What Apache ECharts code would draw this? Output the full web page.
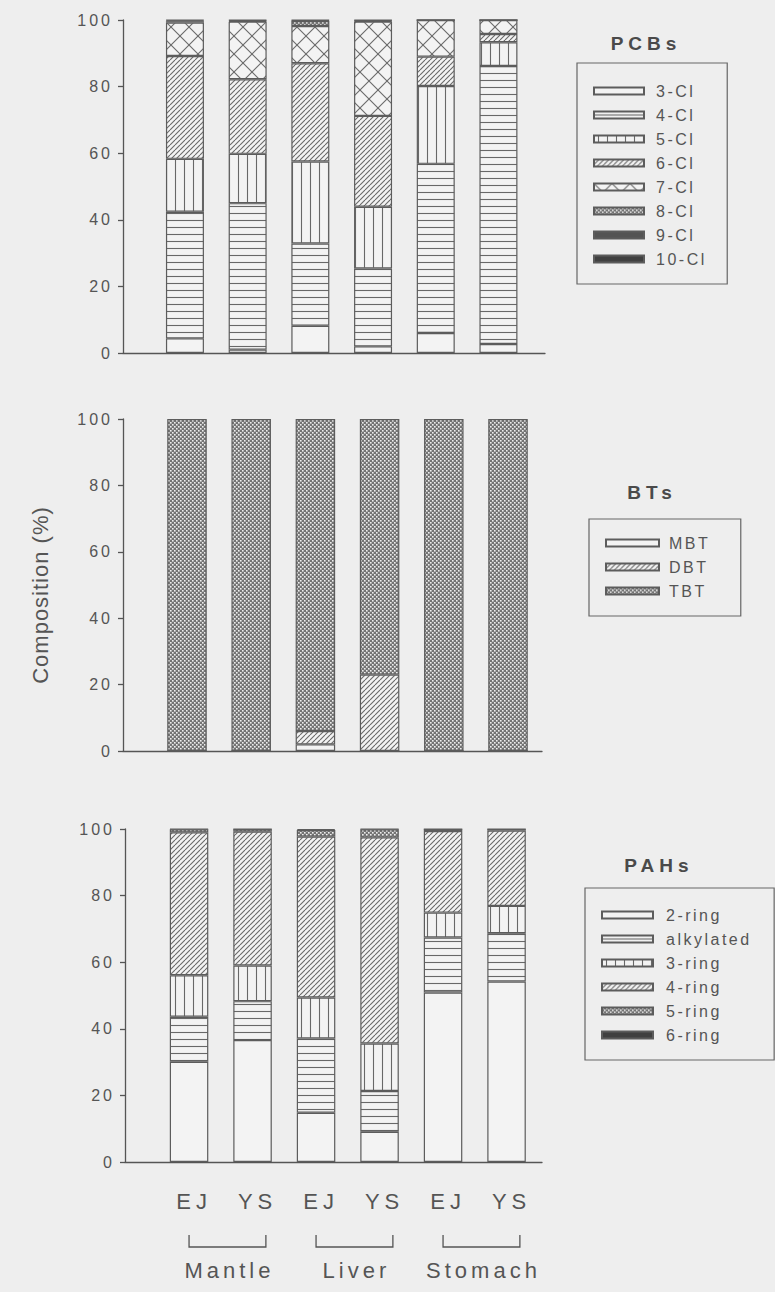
<!DOCTYPE html>
<html>
<head>
<meta charset="utf-8">
<script src="https://cdn.jsdelivr.net/npm/echarts@6.0.0/dist/echarts.min.js"></script>
<style>
  html, body { margin: 0; padding: 0; background: #eeeeee; }
  #chart { width: 775px; height: 1292px; }
  #chart text { letter-spacing: 2px; }
</style>
</head>
<body>
<div id="chart"></div>
<script>
// ---- data -------------------------------------------------------------
const samples = ['Mantle-EJ', 'Mantle-YS', 'Liver-EJ', 'Liver-YS', 'Stomach-EJ', 'Stomach-YS'];
const regionLabels = ['EJ', 'YS', 'EJ', 'YS', 'EJ', 'YS'];
const tissueLabels = ['Mantle', 'Liver', 'Stomach'];
const percentTicks = [0, 20, 40, 60, 80, 100];

// PCB homologue composition (%)
const pcbNames = ['3-Cl', '4-Cl', '5-Cl', '6-Cl', '7-Cl', '8-Cl', '9-Cl', '10-Cl'];
const pcb3 = [4.4, 1.0, 8.2, 2.0, 6.0, 2.7];
const pcb4 = [38.0, 44.0, 24.7, 23.4, 50.8, 83.5];
const pcb5 = [15.9, 14.8, 24.6, 18.5, 23.4, 7.1];
const pcb6 = [30.9, 22.4, 29.5, 27.3, 8.8, 2.5];
const pcb7 = [10.0, 17.3, 11.2, 28.3, 11.0, 4.2];
const pcb8 = [0.4, 0.2, 1.5, 0.2, 0, 0];
const pcb9 = [0.3, 0.2, 0.2, 0.2, 0, 0];
const pcb10 = [0.1, 0.1, 0.1, 0.1, 0, 0];

// butyltin composition (%)
const btNames = ['MBT', 'DBT', 'TBT'];
const mbt = [0, 0, 2.0, 0, 0, 0];
const dbt = [0, 0, 4.0, 23.0, 0, 0];
const tbt = [100, 100, 94.0, 77.0, 100, 100];

// PAH composition (%)
const pahNames = ['2-ring', 'alkylated', '3-ring', '4-ring', '5-ring', '6-ring'];
const ring2 = [30.1, 36.6, 14.8, 9.1, 50.9, 54.2];
const alkylated = [13.5, 11.7, 22.3, 12.2, 16.5, 14.5];
const ring3 = [12.5, 10.7, 12.3, 14.3, 7.5, 8.2];
const ring4 = [42.9, 40.2, 48.3, 61.9, 24.5, 22.6];
const ring5 = [0.9, 0.8, 2.0, 2.4, 0.6, 0.5];
const ring6 = [0.1, 0, 0.3, 0.1, 0, 0];

// ---- styling ------------------------------------------------------------
const FONT = 'Liberation Sans, Arial, sans-serif';
const INK = '#555555';
const OPEN = '#f3f3f3';
const HATCH = '#686868';
const EDGE = '#5c5c5c';

function tile(w, h, draw, base) {
  const c = document.createElement('canvas');
  c.width = w; c.height = h;
  const g = c.getContext('2d');
  g.fillStyle = base || OPEN;
  g.fillRect(0, 0, w, h);
  g.strokeStyle = HATCH;
  g.lineWidth = 1.1;
  draw(g, w, h);
  return { image: c, repeat: 'repeat' };
}
function line(g, x1, y1, x2, y2) { g.beginPath(); g.moveTo(x1, y1); g.lineTo(x2, y2); g.stroke(); }

const fillOpen = OPEN;
const fillHoriz = tile(8, 7, (g) => line(g, 0, 3.5, 8, 3.5));
const fillVert = tile(9, 8, (g) => line(g, 4.5, 0, 4.5, 8));
const fillDiag = tile(5, 5, (g) => { for (const k of [-5, 0, 5]) line(g, k, 5, k + 5, 0); });
const fillCross = tile(18, 18, (g) => { line(g, 0, 0, 18, 18); line(g, 18, 0, 0, 18); });
const fillMesh = tile(4, 4, (g) => {
  g.fillStyle = '#eeeeee';
  g.fillRect(0, 0, 1.6, 1.6);
  g.fillRect(2, 2, 1.6, 1.6);
}, '#747474');
const fillDark = '#545454';
const fillBlack = '#404040';

// ---- layout of the three panels -------------------------------------------
const panels = [
  { frame: { left: 123, top: 20, width: 422, height: 333 }, bars: { left: 153.6, top: 20, width: 376.2, height: 333 }, barWidth: 38 },
  { frame: { left: 123, top: 419, width: 419, height: 332 }, bars: { left: 154.9, top: 419, width: 385.2, height: 332 }, barWidth: 39.5 },
  { frame: { left: 125, top: 829, width: 417, height: 333 }, bars: { left: 157.3, top: 829, width: 381, height: 333 }, barWidth: 38.5 }
];

const grids = [], xAxes = [], yAxes = [];
panels.forEach((p, i) => {
  grids.push(p.frame, p.bars);
  // frame: visible axes
  xAxes.push({
    type: 'value', gridIndex: 2 * i, min: 0, max: 1,
    axisLine: { show: true, lineStyle: { color: INK, width: 1.3 } },
    axisTick: { show: false }, axisLabel: { show: false }, splitLine: { show: false }
  });
  yAxes.push({
    type: 'value', gridIndex: 2 * i, min: percentTicks[0], max: percentTicks[percentTicks.length - 1], interval: 20,
    axisLine: { show: true, lineStyle: { color: INK, width: 1.3 } },
    axisTick: { show: true, inside: false, length: 5, lineStyle: { color: INK, width: 1.3 } },
    axisLabel: { show: true, margin: 10, color: INK, fontSize: 16, fontFamily: FONT },
    splitLine: { show: false }
  });
  // bar grid: category positions of the six samples
  const bottom = i === panels.length - 1;
  xAxes.push({
    type: 'category', gridIndex: 2 * i + 1, data: samples,
    axisLine: { show: false }, axisTick: { show: false }, splitLine: { show: false },
    axisLabel: bottom ? {
      show: true, margin: 28, color: INK, fontSize: 22, fontFamily: FONT, padding: [0, 0, 0, 10],
      formatter: (v, idx) => regionLabels[idx]
    } : { show: false }
  });
  yAxes.push({ type: 'value', gridIndex: 2 * i + 1, min: 0, max: 100, show: false });
});

function stacked(panelIndex, names, arrays, fills) {
  return names.map((name, k) => ({
    type: 'bar', name: name, stack: 'p' + panelIndex,
    xAxisIndex: 2 * panelIndex + 1, yAxisIndex: 2 * panelIndex + 1,
    barWidth: panels[panelIndex].barWidth,
    data: arrays[k],
    itemStyle: { color: fills[k], borderColor: EDGE, borderWidth: 1.2 },
    emphasis: { disabled: true }, silent: true
  }));
}

const series = [].concat(
  stacked(0, pcbNames, [pcb3, pcb4, pcb5, pcb6, pcb7, pcb8, pcb9, pcb10],
    [fillOpen, fillHoriz, fillVert, fillDiag, fillCross, fillMesh, fillDark, fillBlack]),
  stacked(1, btNames, [mbt, dbt, tbt], [fillOpen, fillDiag, fillMesh]),
  stacked(2, pahNames, [ring2, alkylated, ring3, ring4, ring5, ring6],
    [fillOpen, fillHoriz, fillVert, fillDiag, fillMesh, fillBlack])
);

function legendBox(names, left, top, padding, itemWidth, textGap) {
  return {
    orient: 'vertical', left: left, top: top, data: names,
    padding: padding, itemGap: 0, itemWidth: itemWidth, itemHeight: 7, icon: 'rect',
    borderColor: '#666666', borderWidth: 1.2, borderRadius: 0, backgroundColor: 'transparent',
    selectedMode: false,
    textStyle: { color: INK, fontSize: 16, fontFamily: FONT, lineHeight: 24, padding: [0, 0, 0, textGap] }
  };
}

const titleFont = 'bold 19px ' + FONT;
const baseGraphics = [
  { id: 't-pcb', type: 'text', x: 646, y: 43, style: { text: 'PCBs', font: titleFont, fill: '#4a4a4a', align: 'center', verticalAlign: 'middle' } },
  { id: 't-bt', type: 'text', x: 652, y: 492, style: { text: 'BTs', font: titleFont, fill: '#4a4a4a', align: 'center', verticalAlign: 'middle' } },
  { id: 't-pah', type: 'text', x: 659, y: 865, style: { text: 'PAHs', font: titleFont, fill: '#4a4a4a', align: 'center', verticalAlign: 'middle' } },
  { id: 'y-name', type: 'text', x: 40, y: 595, rotation: Math.PI / 2,
    style: { text: 'Composition (%)', font: '22px ' + FONT, fill: INK, align: 'center', verticalAlign: 'middle' } }
];

const chart = echarts.init(document.getElementById('chart'), null, { renderer: 'svg' });
chart.setOption({
  backgroundColor: '#eeeeee',
  animation: false,
  grid: grids,
  xAxis: xAxes,
  yAxis: yAxes,
  legend: [
    legendBox(pcbNames, 577, 63, [16, 33, 13, 16], 50, 7),
    legendBox(btNames, 589, 519, [12, 38, 13, 16], 53, 5),
    legendBox(pahNames, 585, 888, [15, 45, 13, 16], 51, 8)
  ],
  series: series,
  graphic: baseGraphics
});

// tissue brackets under the bottom panel, placed from the category axis
const bottomAxis = 2 * (panels.length - 1) + 1;
const step = chart.convertToPixel({ xAxisIndex: bottomAxis }, 1) - chart.convertToPixel({ xAxisIndex: bottomAxis }, 0);
const groupGraphics = [];
tissueLabels.forEach((name, g) => {
  const x1 = chart.convertToPixel({ xAxisIndex: bottomAxis }, 2 * g);
  const x2 = chart.convertToPixel({ xAxisIndex: bottomAxis }, 2 * g + 1) + 0.21 * step;
  groupGraphics.push({
    id: 'br-' + g, type: 'polyline',
    shape: { points: [[x1, 1235], [x1, 1247], [x2, 1247], [x2, 1235]] },
    style: { stroke: INK, lineWidth: 1.3, fill: null }
  });
  groupGraphics.push({
    id: 'gl-' + g, type: 'text', x: (x1 + x2) / 2 + 2, y: 1270,
    style: { text: name, font: '22px ' + FONT, fill: INK, align: 'center', verticalAlign: 'middle' }
  });
});
chart.setOption({ graphic: baseGraphics.concat(groupGraphics) });

// letter tracking of the typeset labels
function applyTracking() {
  chart.getDom().querySelectorAll('text').forEach((t) => {
    const s = t.textContent.trim();
    let ls = null;
    if (/^\d+$/.test(s)) ls = '3px';
    else if (regionLabels.indexOf(s) >= 0) ls = '5px';
    else if (tissueLabels.indexOf(s) >= 0) ls = '4px';
    else if (s === 'PCBs' || s === 'BTs' || s === 'PAHs') ls = '5px';
    else if (s === 'Composition (%)') ls = '1px';
    else ls = '2.5px';
    t.style.letterSpacing = ls;
  });
}
applyTracking();
chart.on('finished', applyTracking);
</script>
</body>
</html>
